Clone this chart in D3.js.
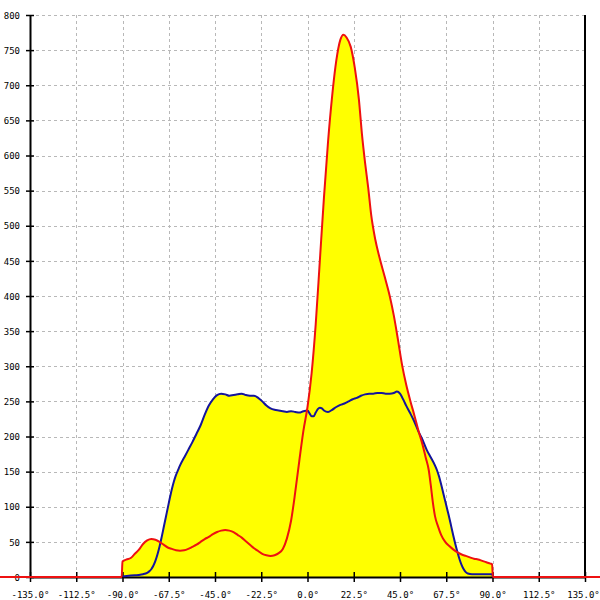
<!DOCTYPE html>
<html>
<head>
<meta charset="utf-8">
<script src="https://cdn.jsdelivr.net/npm/d3@7"></script>
<style>
  html, body { margin: 0; padding: 0; background: #fff; }
  svg { display: block; }
  text { font-family: "DejaVu Sans Mono", "Liberation Mono", monospace; font-size: 9px; fill: #000; }
</style>
</head>
<body>
<svg id="chart" width="600" height="600"></svg>
<script>
// Angle ticks (degrees) and value ticks
const xTicks = [-135, -112.5, -90, -67.5, -45, -22.5, 0, 22.5, 45, 67.5, 90, 112.5, 135];
const yTicks = [0, 50, 100, 150, 200, 250, 300, 350, 400, 450, 500, 550, 600, 650, 700, 750, 800];

// Red series (angle, value)
const redAngles = [-180, -90.4, -90, -88, -86, -84, -82, -80, -78, -76, -74, -72, -70, -68, -66, -64, -62, -60, -58, -56, -54, -52, -50, -48, -46, -44, -42, -40, -38, -36, -34, -32, -30, -28, -26, -24, -22, -20, -18, -16, -14, -12, -10, -8, -6, -4, -2, 0, 2, 4, 6, 8, 10, 12, 14, 16, 17.5, 19, 21, 23, 25, 26.5, 28, 29.5, 31, 33, 35, 37.5, 40, 42, 44, 46, 48, 50, 52, 54, 56, 57.5, 59, 60, 61, 62, 63.5, 65, 67, 69, 71, 73, 75, 77, 79, 81, 83, 85, 87, 89, 89.8, 90.2, 180];
const redValues = [0, 0, 22, 25, 27, 33, 39, 47, 52, 54, 53, 50, 46, 42, 40, 38, 37.5, 38, 40, 43, 46, 50, 54, 57, 61, 64, 66, 67, 66, 64, 60, 56, 51, 46, 41, 37, 33, 31, 30, 31, 34, 40, 55, 80, 120, 165, 208, 242, 290, 360, 450, 540, 620, 685, 735, 765, 772, 768, 755, 725, 680, 630, 590, 555, 515, 480, 455, 428, 400, 372, 338, 302, 274, 251, 230, 208, 188, 170, 152, 130, 106, 87, 72, 60, 50, 44, 39, 35, 32, 30, 28, 26, 25, 23, 21, 19, 18, 0, 0];

// Blue series (angle, value)
const blueAngles = [-90, -88, -86, -84, -82, -80, -78, -77, -76, -75, -74, -73, -72, -71, -70, -69, -68, -67, -66, -65, -64, -63, -62, -60, -58, -56, -54, -52, -50, -48, -46, -44, -42, -40, -38, -36, -34, -32, -30, -28, -26, -24, -22, -20, -18, -16, -14, -12, -10, -8, -6, -4, -2, 0, 1, 2, 3, 4, 5, 6, 7, 8, 10, 12, 14, 16, 18, 20, 22, 24, 26, 28, 30, 32, 34, 36, 38, 40, 42, 43.5, 45, 46, 47, 48, 50, 52, 54, 56, 58, 60, 62, 63, 64, 65, 66, 67, 68, 69, 70, 71, 72, 73, 74, 75, 76, 77, 78, 80, 82, 84, 86, 88, 89.8, 90.2];
const blueValues = [1, 1.5, 2, 2.5, 3, 4, 6, 8, 11, 16, 23, 32, 43, 56, 70, 84, 98, 112, 125, 136, 145, 152, 159, 170, 181, 192, 204, 216, 231, 244, 253, 259, 261, 260, 258, 259, 260, 261, 259, 258, 258, 255, 250, 244, 240, 238, 237, 236, 235, 236, 235, 234, 236, 237, 233, 229, 229, 234, 239, 241, 240, 237, 235, 238, 242, 245, 247, 250, 253, 255, 258, 260, 261, 261, 262, 262, 261, 261, 262, 264, 261, 256, 250, 244, 233, 221, 207, 195, 181, 170, 159, 152, 143, 132, 120, 108, 96, 84, 71, 58, 46, 35, 25, 17, 11, 7, 5, 4, 4, 4, 4, 4, 4, 0];

const svg = d3.select("#chart");
const x = d3.scaleLinear().domain([-135, 135]).range([30, 585]);
const y = d3.scaleLinear().domain([0, 800]).range([577, 15]);

const red = redAngles.map((a, i) => [a, redValues[i]]);
const blue = blueAngles.map((a, i) => [a, blueValues[i]]);

// Grid
const grid = svg.append("g").attr("stroke", "#b8b8b8").attr("stroke-width", 1).attr("stroke-dasharray", "3,3");
grid.selectAll("line.v").data(xTicks.slice(1, -1)).join("line")
  .attr("x1", d => Math.round(x(d)) + 0.5).attr("x2", d => Math.round(x(d)) + 0.5)
  .attr("y1", y(800)).attr("y2", y(0));
grid.selectAll("line.h").data(yTicks.slice(1)).join("line")
  .attr("x1", x(-135)).attr("x2", x(135))
  .attr("y1", d => Math.round(y(d)) + 0.5).attr("y2", d => Math.round(y(d)) + 0.5);

// Filled areas
const area = d3.area().x(d => x(d[0])).y0(y(0)).y1(d => y(d[1])).curve(d3.curveMonotoneX);
svg.append("path").datum(blue.filter(d => d[0] >= -90.5 && d[0] <= 90.5)).attr("d", area).attr("fill", "#ffff00");
svg.append("path").datum(red.filter(d => d[0] >= -91 && d[0] <= 91)).attr("d", area).attr("fill", "#ffff00");

// Axes
const yAxis = d3.axisLeft(y).tickValues(yTicks).tickFormat(d3.format("d")).tickSizeInner(4).tickSizeOuter(0).tickPadding(6);
const gy = svg.append("g").attr("transform", `translate(${x(-135)},0)`).call(yAxis);
gy.select(".domain").attr("stroke", "#000").attr("stroke-width", 2);
gy.selectAll(".tick line").attr("stroke", "#000").attr("stroke-width", 1.5).attr("x2", -4).attr("x1", 4);
gy.selectAll(".tick text").attr("dy", "0.35em").attr("font-size", null).attr("font-family", null);

const xAxis = d3.axisBottom(x).tickValues(xTicks).tickFormat(d => d.toFixed(1) + "°").tickSizeInner(5).tickSizeOuter(0).tickPadding(10);
const gx = svg.append("g").attr("transform", `translate(0,${y(0)})`).call(xAxis);
gx.select(".domain").attr("stroke", "#000").attr("stroke-width", 2);
gx.selectAll(".tick line").attr("stroke", "#000").attr("stroke-width", 1.5).attr("y1", -5).attr("y2", 5);
gx.selectAll(".tick text").attr("font-size", null).attr("font-family", null)
  .attr("dx", d => d === 135 ? -2 : 0);

// Right border
svg.append("line").attr("x1", x(135)).attr("x2", x(135)).attr("y1", y(800)).attr("y2", y(0))
  .attr("stroke", "#000").attr("stroke-width", 2);

// Lines
const line = d3.line().x(d => x(d[0])).y(d => y(d[1])).curve(d3.curveMonotoneX);
svg.append("path").datum(blue).attr("d", line).attr("fill", "none").attr("stroke", "#14149c").attr("stroke-width", 2);
svg.append("path").datum(red).attr("d", line).attr("fill", "none").attr("stroke", "#ee1111").attr("stroke-width", 2);
</script>
</body>
</html>
